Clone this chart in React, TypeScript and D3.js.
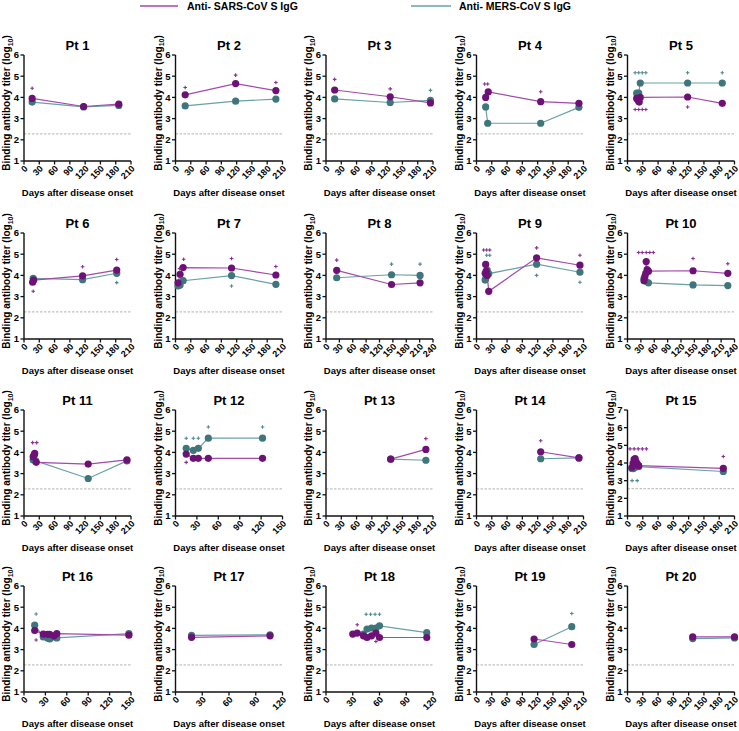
import React from "react";
import * as d3 from "d3";

type Pt = [number, number];

const patients = ["Pt 1","Pt 2","Pt 3","Pt 4","Pt 5","Pt 6","Pt 7","Pt 8","Pt 9","Pt 10","Pt 11","Pt 12","Pt 13","Pt 14","Pt 15","Pt 16","Pt 17","Pt 18","Pt 19","Pt 20"];
const xMax = [210,210,210,210,210,210,210,240,210,240,210,150,210,210,210,150,120,120,210,210];
const yMax = [6,6,6,6,6,6,6,6,6,6,6,6,6,6,7,6,6,6,6,6];
const cutoff = [2.28,2.28,2.28,2.28,2.28,2.28,2.28,2.28,2.28,2.28,2.28,2.28,2.28,2.28,2.55,2.28,2.28,2.28,2.28,2.28];

const seriesNames = ["Anti- SARS-CoV S IgG", "Anti- MERS-CoV S IgG"];

const sarsData: Pt[][] = [
  [[16,3.95],[117,3.57],[186,3.68]],
  [[19,4.12],[118,4.65],[197,4.32]],
  [[17,4.35],[126,4.03],[205,3.74]],
  [[18,4.0],[23,4.26],[126,3.8],[201,3.72]],
  [[18,3.95],[21,3.85],[23,3.78],[25,4.0],[118,4.02],[186,3.72]],
  [[17,3.68],[19,3.78],[115,3.98],[182,4.25]],
  [[5,3.65],[9,4.05],[15,4.37],[110,4.35],[197,4.02]],
  [[24,4.24],[147,3.57],[211,3.65]],
  [[17,4.1],[18,4.52],[19,4.2],[21,4.0],[24,3.25],[118,4.83],[203,4.48]],
  [[37,3.75],[39,3.95],[41,4.1],[42,4.65],[44,4.27],[47,4.2],[147,4.22],[225,4.1]],
  [[18,3.8],[20,3.88],[21,3.95],[24,3.53],[126,3.45],[202,3.65]],
  [[15,3.92],[25,3.72],[32,3.72],[46,3.72],[122,3.72]],
  [[127,3.68],[196,4.14]],
  [[126,4.03],[201,3.74]],
  [[9,3.76],[11,3.98],[13,4.2],[15,4.25],[17,4.05],[19,3.95],[22,3.85],[188,3.7]],
  [[15,3.9],[27,3.73],[33,3.72],[36,3.72],[42,3.65],[46,3.75],[147,3.68]],
  [[18,3.58],[106,3.65]],
  [[30,3.73],[35,3.78],[42,3.65],[46,3.57],[51,3.65],[56,3.78],[60,3.57],[113,3.57]],
  [[113,3.5],[187,3.24]],
  [[128,3.6],[210,3.6]],
];

const mersData: Pt[][] = [
  [[16,3.78],[117,3.55],[186,3.62]],
  [[19,3.6],[118,3.82],[197,3.92]],
  [[17,3.93],[126,3.76],[205,3.86]],
  [[18,3.55],[22,2.78],[126,2.78],[201,3.53]],
  [[18,4.2],[22,4.2],[25,4.68],[118,4.68],[186,4.68]],
  [[18,3.86],[115,3.8],[182,4.1]],
  [[5,3.5],[9,3.55],[15,3.75],[110,3.99],[197,3.58]],
  [[24,3.89],[147,4.03],[211,4.0]],
  [[17,3.78],[18,3.85],[21,4.25],[24,4.08],[118,4.53],[203,4.15]],
  [[37,3.85],[41,3.72],[47,3.65],[147,3.55],[225,3.52]],
  [[18,3.64],[23,3.6],[126,2.77],[202,3.6]],
  [[15,4.19],[25,4.1],[32,4.19],[46,4.67],[122,4.67]],
  [[127,3.68],[196,3.63]],
  [[126,3.7],[201,3.74]],
  [[8,3.7],[11,3.68],[14,3.75],[18,3.8],[22,3.8],[188,3.52]],
  [[15,4.15],[27,3.6],[33,3.55],[36,3.5],[42,3.6],[46,3.55],[147,3.75]],
  [[18,3.67],[106,3.7]],
  [[42,3.73],[46,3.97],[51,4.02],[56,4.02],[60,4.12],[113,3.8]],
  [[113,3.24],[187,4.08]],
  [[128,3.52],[210,3.55]],
];

const sarsPlus: Pt[][] = [
  [[16,4.43]],
  [[19,4.47],[118,5.05],[197,4.7]],
  [[17,4.85],[126,4.4]],
  [[16,4.63],[22,4.63],[126,4.27]],
  [[15,3.43],[22,3.43],[29,3.43],[36,3.43],[118,3.55]],
  [[18,3.25],[115,4.41],[182,4.75]],
  [[8,4.32],[16,4.76],[110,4.8],[197,4.42]],
  [[24,4.72]],
  [[14,5.2],[20,5.2],[26,5.2],[118,5.3],[203,4.95]],
  [[25,5.08],[33,5.08],[42,5.08],[50,5.08],[58,5.08],[147,4.8],[225,4.55]],
  [[17,4.46],[25,4.46]],
  [[15,3.53]],
  [[196,4.65]],
  [[126,4.55]],
  [[5,4.8],[13,4.8],[21,4.8],[29,4.8],[37,4.8],[188,4.37]],
  [[17,3.45]],
  [],
  [[35,4.17],[56,3.38]],
  [],
  [],
];

const mersPlus: Pt[][] = [
  [],
  [],
  [[205,4.33]],
  [],
  [[15,5.16],[22,5.16],[29,5.16],[36,5.16],[118,5.16],[186,5.16]],
  [[182,3.66]],
  [[110,3.5]],
  [[147,4.53],[211,4.53]],
  [[20,4.95],[26,4.95],[118,4.0],[203,3.68]],
  [],
  [],
  [[15,4.67],[25,4.67],[32,4.67],[46,5.2],[122,5.2]],
  [],
  [],
  [[9,3.0],[19,3.0]],
  [[17,4.68]],
  [],
  [[45,4.67],[50,4.67],[55,4.67],[60,4.67]],
  [[187,4.7]],
  [],
];

const SARS_DOT = "#6d1177";
const SARS_LINE = "#a34aaa";
const SARS_PLUS = "#8a2e92";
const MERS_DOT = "#3e767c";
const MERS_LINE = "#68a1a6";
const MERS_PLUS = "#4f8a90";

const FONT = "'Liberation Sans', Arial, Helvetica, sans-serif";
const colX = [24, 175.5, 326, 476.5, 627.5];
const rowY = [55, 233, 410, 586];
const W = 107;
const H = 106;

function Plus({ cx, cy, color }: { cx: number; cy: number; color: string }) {
  const s = 1.8;
  return (
    <path
      d={`M${cx - s},${cy}H${cx + s}M${cx},${cy - s}V${cy + s}`}
      stroke={color}
      strokeWidth={1.1}
      fill="none"
    />
  );
}

function Panel({ i }: { i: number }) {
  const x0 = colX[i % 5];
  const y0 = rowY[Math.floor(i / 5)];
  const x = d3.scaleLinear().domain([0, xMax[i]]).range([x0, x0 + W]);
  const y = d3.scaleLinear().domain([1, yMax[i]]).range([y0 + H, y0]);
  const xt = d3.range(0, xMax[i] + 1, 30);
  const yt = d3.range(1, yMax[i] + 1, 1);
  const line = d3
    .line<Pt>()
    .x((d) => x(d[0]))
    .y((d) => y(d[1]));
  const bottom = y(1);
  return (
    <g fontFamily={FONT} fontWeight="bold">
      <text x={x0 + W / 2} y={y0 - 5} textAnchor="middle" fontSize={13}>
        {patients[i]}
      </text>
      <line
        x1={x(0)}
        x2={x(xMax[i])}
        y1={y(cutoff[i])}
        y2={y(cutoff[i])}
        stroke="#c2c2c2"
        strokeWidth={1.3}
        strokeDasharray="2.5 1.5"
      />
      <line x1={x0} x2={x0} y1={y(yMax[i])} y2={bottom} stroke="#111" strokeWidth={1.4} />
      <line x1={x0} x2={x(xMax[i])} y1={bottom} y2={bottom} stroke="#111" strokeWidth={1.4} />
      {yt.map((t) => (
        <g key={"y" + t}>
          <line x1={x0 - 3.5} x2={x0} y1={y(t)} y2={y(t)} stroke="#111" strokeWidth={1.3} />
          <text x={x0 - 5} y={y(t)} dy="0.35em" textAnchor="end" fontSize={9.5}>
            {t}
          </text>
        </g>
      ))}
      {xt.map((t) => (
        <g key={"x" + t}>
          <line x1={x(t)} x2={x(t)} y1={bottom} y2={bottom + 3.5} stroke="#111" strokeWidth={1.3} />
          <text
            transform={`translate(${x(t) + 2},${bottom + 6}) rotate(-45)`}
            dy="0.35em"
            textAnchor="end"
            fontSize={9}
          >
            {t}
          </text>
        </g>
      ))}
      <text x={x0 + W / 2} y={bottom + 35} textAnchor="middle" fontSize={9.5}>
        Days after disease onset
      </text>
      <text
        transform={`translate(${x0 - 14},${y0 + H / 2 - 5}) rotate(-90)`}
        textAnchor="middle"
        fontSize={10}
      >
        Binding antibody titer (log
        <tspan fontSize={7} dy={2.5}>10</tspan>
        <tspan dy={-2.5}>)</tspan>
      </text>
      <path d={line(mersData[i]) || ""} fill="none" stroke={MERS_LINE} strokeWidth={1.2} />
      <path d={line(sarsData[i]) || ""} fill="none" stroke={SARS_LINE} strokeWidth={1.2} />
      {mersData[i].map((d, k) => (
        <circle key={"m" + k} cx={x(d[0])} cy={y(d[1])} r={3.6} fill={MERS_DOT} />
      ))}
      {sarsData[i].map((d, k) => (
        <circle key={"s" + k} cx={x(d[0])} cy={y(d[1])} r={3.6} fill={SARS_DOT} />
      ))}
      {sarsPlus[i].map((d, k) => (
        <Plus key={"sp" + k} cx={x(d[0])} cy={y(d[1])} color={SARS_PLUS} />
      ))}
      {mersPlus[i].map((d, k) => (
        <Plus key={"mp" + k} cx={x(d[0])} cy={y(d[1])} color={MERS_PLUS} />
      ))}
    </g>
  );
}

export default function App() {
  return (
    <svg
      width={739}
      height={731}
      style={{ position: "absolute", left: 0, top: 0, background: "#fff" }}
    >
      <rect width={739} height={731} fill="#fff" />
      <g fontFamily={FONT} fontWeight="bold" fontSize={10.5}>
        <line x1={140} x2={178} y1={6} y2={6} stroke={SARS_LINE} strokeWidth={1.6} />
        <text x={187} y={10}>{seriesNames[0]}</text>
        <line x1={411} x2={451} y1={6} y2={6} stroke={MERS_LINE} strokeWidth={1.6} />
        <text x={459} y={10}>{seriesNames[1]}</text>
      </g>
      {patients.map((_, i) => (
        <Panel key={i} i={i} />
      ))}
    </svg>
  );
}
